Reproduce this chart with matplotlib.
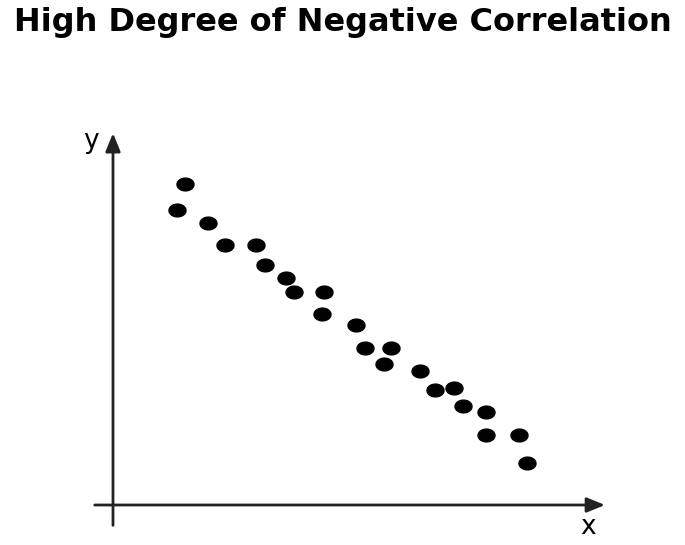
import numpy as np
import matplotlib
matplotlib.use("Agg")
import matplotlib.pyplot as plt
from matplotlib.path import Path

title = "High Degree of Negative Correlation"
x_vals = [1.51, 1.34, 1.97, 2.33, 2.98, 3.17, 3.60, 3.78, 4.39, 4.36, 5.06,
          5.24, 5.79, 5.65, 6.40, 6.71, 7.11, 7.29, 7.78, 7.78, 8.46, 8.63]
y_vals = [8.68, 7.97, 7.63, 7.04, 7.04, 6.48, 6.14, 5.75, 5.75, 5.15, 4.86,
          4.25, 4.24, 3.80, 3.63, 3.11, 3.16, 2.68, 2.51, 1.89, 1.89, 1.14]

plt.rcParams['font.family'] = ['Roboto', 'DejaVu Sans']

fig = plt.figure(figsize=(6.85, 5.45), dpi=100)
ax = fig.add_axes([0, 0, 1, 1])
ax.set_xlim(-2.354, 11.917)
ax.set_ylim(-1.081, 13.649)
ax.axis('off')

# slightly flattened dots, like the reference
t = np.linspace(0, 2 * np.pi, 60)
ellipse = Path(np.c_[np.cos(t), 0.75 * np.sin(t)])
ax.scatter(x_vals, y_vals, marker=ellipse, s=150, color='black', zorder=3)

# axes with arrow heads
arrow = dict(arrowstyle='-|>,head_length=1.1,head_width=0.45', color='#222222',
             lw=2, shrinkA=0, shrinkB=0)
ax.annotate('', xy=(10.25, 0), xytext=(-0.38, 0), arrowprops=arrow)
ax.annotate('', xy=(0, 10.05), xytext=(0, -0.55), arrowprops=arrow)
ax.text(-0.46, 9.83, 'y', fontsize=19, family='DejaVu Sans', ha='center', va='center')
ax.text(9.9, -0.6, 'x', fontsize=19, family='DejaVu Sans', ha='center', va='center')

fig.text(0.5, 1 - 23 / 545, title, fontsize=23, fontweight='bold',
         family='DejaVu Sans', ha='center', va='center')

fig.savefig('out.png', dpi=100)
